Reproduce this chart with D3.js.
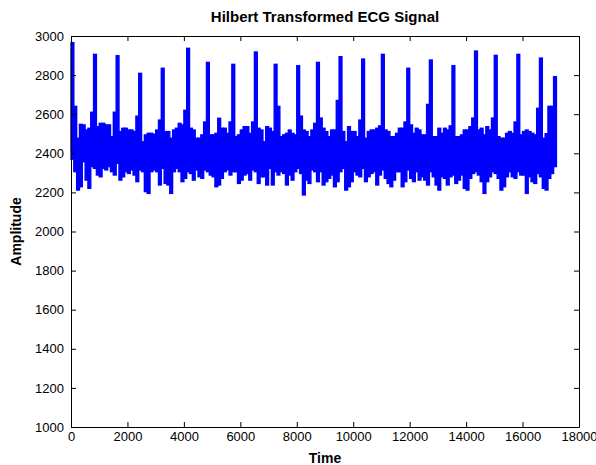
<!DOCTYPE html>
<html>
<head>
<meta charset="utf-8">
<script src="https://cdn.jsdelivr.net/npm/d3@7"></script>
<style>
  body { margin: 0; background: #fff; }
  .chart text { font-family: "Liberation Sans", Arial, sans-serif; }
</style>
</head>
<body>
<div class="chart"></div>
<script>
var binSize = 100;

var upper = [
  2966, 2640, 2477, 2548, 2545, 2519, 2528, 2610, 2906, 2536,
  2553, 2553, 2545, 2545, 2485, 2610, 2899, 2511, 2528, 2528,
  2519, 2519, 2511, 2590, 2809, 2459, 2494, 2502, 2502, 2497,
  2519, 2570, 2835, 2511, 2511, 2477, 2519, 2528, 2553, 2545,
  2620, 2937, 2528, 2519, 2477, 2477, 2494, 2560, 2865, 2494,
  2494, 2502, 2579, 2528, 2528, 2502, 2560, 2855, 2485, 2494,
  2519, 2536, 2536, 2502, 2560, 2918, 2528, 2519, 2459, 2536,
  2528, 2511, 2855, 2640, 2485, 2494, 2502, 2519, 2502, 2494,
  2848, 2590, 2519, 2511, 2485, 2519, 2553, 2865, 2580, 2528,
  2511, 2485, 2519, 2519, 2670, 2894, 2511, 2459, 2536, 2511,
  2511, 2485, 2570, 2882, 2477, 2511, 2519, 2519, 2528, 2540,
  2906, 2519, 2511, 2485, 2485, 2502, 2528, 2528, 2560, 2835,
  2545, 2502, 2528, 2519, 2494, 2494, 2650, 2877, 2485, 2485,
  2528, 2502, 2528, 2519, 2540, 2848, 2485, 2485, 2494, 2519,
  2519, 2536, 2580, 2923, 2519, 2528, 2494, 2536, 2519, 2580,
  2901, 2485, 2477, 2477, 2502, 2511, 2502, 2560, 2906, 2494,
  2511, 2519, 2511, 2502, 2494, 2630, 2887, 2477, 2500, 2640,
  2640, 2792
];

var lower = [
  2370, 2306, 2212, 2229, 2357, 2263, 2221, 2332, 2323, 2289,
  2280, 2323, 2315, 2332, 2306, 2289, 2349, 2263, 2280, 2306,
  2297, 2315, 2289, 2255, 2315, 2306, 2204, 2195, 2306, 2315,
  2306, 2238, 2323, 2246, 2238, 2195, 2306, 2323, 2306, 2255,
  2272, 2306, 2297, 2263, 2315, 2280, 2272, 2315, 2306, 2289,
  2280, 2229, 2238, 2272, 2306, 2315, 2289, 2306, 2306, 2246,
  2263, 2289, 2297, 2263, 2315, 2306, 2246, 2280, 2280, 2238,
  2323, 2238, 2306, 2289, 2306, 2297, 2238, 2289, 2263, 2306,
  2323, 2297, 2187, 2263, 2246, 2315, 2306, 2255, 2306, 2238,
  2255, 2272, 2289, 2229, 2255, 2306, 2323, 2212, 2229, 2255,
  2306, 2289, 2280, 2323, 2255, 2280, 2297, 2306, 2238, 2289,
  2315, 2272, 2246, 2229, 2263, 2306, 2306, 2229, 2255, 2315,
  2272, 2255, 2306, 2263, 2280, 2263, 2238, 2306, 2280, 2238,
  2212, 2280, 2272, 2238, 2280, 2289, 2246, 2263, 2289, 2221,
  2212, 2272, 2297, 2306, 2289, 2255, 2195, 2255, 2280, 2306,
  2297, 2272, 2212, 2229, 2280, 2306, 2280, 2272, 2306, 2289,
  2289, 2195, 2280, 2255, 2246, 2297, 2280, 2221, 2212, 2272,
  2297, 2332
];

var xTicks = [0, 2000, 4000, 6000, 8000, 10000, 12000, 14000, 16000, 18000];
var yTicks = [1000, 1200, 1400, 1600, 1800, 2000, 2200, 2400, 2600, 2800, 3000];

var svgW = 596;
var svgH = 465;
var margin = { top: 36, right: 17, bottom: 38, left: 71 };
var w = svgW - margin.left - margin.right;
var h = svgH - margin.top - margin.bottom;

var svg = d3
    .select(".chart")
    .append("svg")
    .attr("width", svgW)
    .attr("height", svgH)
    .append("g")
    .attr("transform", "translate(" + margin.left + "," + margin.top + ")");

var xLS = d3.scaleLinear().domain([0, 18000]).range([0, w]);
var yLS = d3.scaleLinear().domain([1000, 3000]).range([h, 0]);

var bins = upper.map(function(u, i) {
    return { t: i * binSize, hi: u, lo: lower[i] };
});

// signal
svg.append("g")
    .selectAll("rect")
    .data(bins)
    .enter()
    .append("rect")
    .attr("x", function(d) { return xLS(d.t); })
    .attr("width", function(d) { return xLS(d.t + binSize) - xLS(d.t); })
    .attr("y", function(d) { return yLS(d.hi); })
    .attr("height", function(d) { return yLS(d.lo) - yLS(d.hi); })
    .attr("fill", "#0000ff")
    .attr("stroke", "#0000ff")
    .attr("stroke-width", 1.4);

var fmt = d3.format("d");

function styleAxis(g) {
    g.selectAll("path").attr("stroke", "#000").attr("stroke-width", 1);
    g.selectAll("line").attr("stroke", "#000");
    g.selectAll("text").attr("fill", "#000").style("font-size", "13px");
}

svg.append("g")
    .attr("transform", "translate(0," + h + ")")
    .call(d3.axisBottom(xLS).tickValues(xTicks).tickFormat(fmt)
        .tickSizeInner(-5).tickSizeOuter(0).tickPadding(5))
    .call(styleAxis);

svg.append("g")
    .call(d3.axisTop(xLS).tickValues(xTicks).tickFormat("")
        .tickSizeInner(-5).tickSizeOuter(0))
    .call(styleAxis);

svg.append("g")
    .call(d3.axisLeft(yLS).tickValues(yTicks).tickFormat(fmt)
        .tickSizeInner(-5).tickSizeOuter(0).tickPadding(7))
    .call(styleAxis);

svg.append("g")
    .attr("transform", "translate(" + w + ",0)")
    .call(d3.axisRight(yLS).tickValues(yTicks).tickFormat("")
        .tickSizeInner(-5).tickSizeOuter(0))
    .call(styleAxis);

svg.append("text")
    .attr("x", w / 2)
    .attr("y", -14)
    .attr("text-anchor", "middle")
    .style("font-size", "15px")
    .style("font-weight", "bold")
    .text("Hilbert Transformed ECG Signal");

svg.append("text")
    .attr("x", w / 2)
    .attr("y", h + 36)
    .attr("text-anchor", "middle")
    .style("font-size", "14px")
    .style("font-weight", "bold")
    .text("Time");

svg.append("text")
    .attr("transform", "rotate(-90)")
    .attr("x", -h / 2)
    .attr("y", -50)
    .attr("text-anchor", "middle")
    .style("font-size", "14px")
    .style("font-weight", "bold")
    .text("Amplitude");
</script>
</body>
</html>
